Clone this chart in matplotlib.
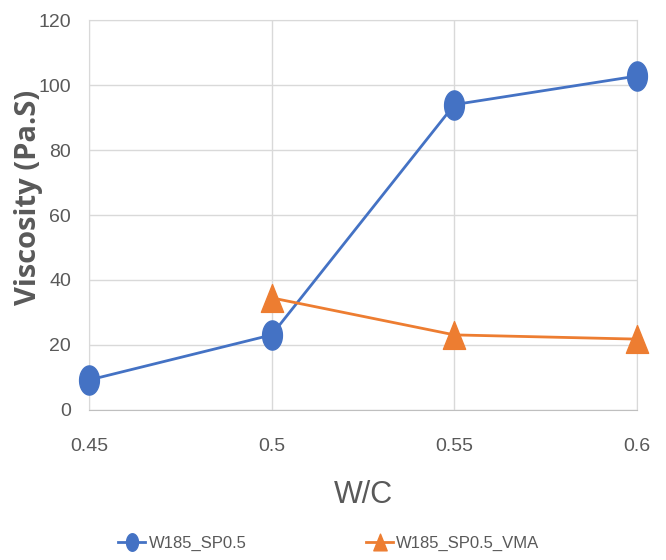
import numpy as np
import matplotlib
matplotlib.use("Agg")
import matplotlib.pyplot as plt
from matplotlib.path import Path

wc = [0.45, 0.5, 0.55, 0.6]
sp05 = [9.2, 23.1, 94.0, 102.8]
wc_vma = [0.5, 0.55, 0.6]
sp05_vma = [34.5, 23.1, 21.8]
xticks = ["0.45", "0.5", "0.55", "0.6"]
yticks = [0, 20, 40, 60, 80, 100, 120]

fam = "Liberation Sans"

t = np.linspace(0, 2 * np.pi, 60)
ellipse = Path(np.column_stack([0.68 * np.cos(t), np.sin(t)]), closed=True)
tri = Path([[-0.8, -1.0], [0.8, -1.0], [0.0, 1.0], [-0.8, -1.0]], closed=True)

fig = plt.figure(figsize=(6.66, 5.6), dpi=100)
ax = fig.add_axes([0.1336, 0.268, 0.823, 0.696])
blue = "#4472C4"
orange = "#ED7D31"
ax.plot(wc, sp05, color=blue, lw=2, marker=ellipse, ms=21, label="W185_SP0.5", zorder=3, clip_on=False)
ax.plot(wc_vma, sp05_vma, color=orange, lw=2, marker=tri, ms=20, label="W185_SP0.5_VMA", zorder=3, clip_on=False)

ax.set_xlim(0.45, 0.6)
ax.set_ylim(0, 120)
ax.set_xticks(wc)
ax.set_xticklabels(xticks)
ax.set_yticks(yticks)
ax.grid(True, color="#d9d9d9", lw=1)
ax.set_axisbelow(True)
for s in ax.spines.values():
    s.set_color("#d9d9d9")
ax.spines["bottom"].set_color("#bfbfbf")
ax.tick_params(length=0, labelsize=14, colors="#595959", labelfontfamily=fam)
ax.tick_params(axis="y", pad=13)
ax.tick_params(axis="x", pad=20)

ax.set_xlabel("W/C", fontsize=22, color="#595959", family=fam, va="center")
ax.xaxis.set_label_coords(0.5, -0.218)
ax.set_ylabel("Viscosity (Pa.S)", fontsize=21, fontweight="bold", color="#595959",
              family="Open Sans", va="center")
ax.yaxis.set_label_coords(-0.11, 0.546)

leg = fig.legend(loc="center", bbox_to_anchor=(329 / 666, 0.03), bbox_transform=fig.transFigure,
                 ncol=2, frameon=False, prop={"family": fam, "size": 12}, handlelength=1.6,
                 markerscale=0.6, columnspacing=7.2, handletextpad=0.2, borderpad=0)
for txt in leg.get_texts():
    txt.set_color("#595959")

fig.savefig("out.png", dpi=100)
